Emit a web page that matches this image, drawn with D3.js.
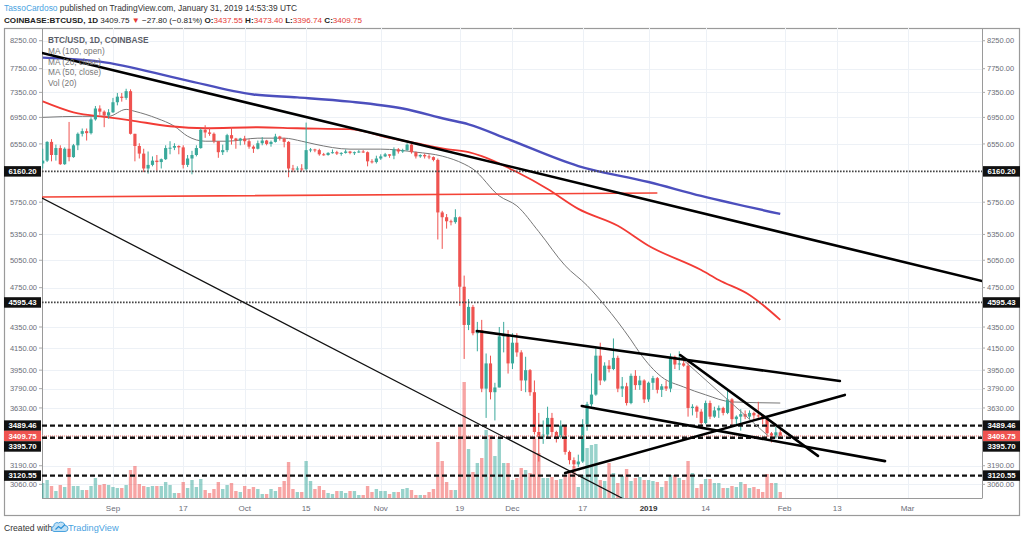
<!DOCTYPE html>
<html lang="en">
<head>
<meta charset="utf-8">
<script src="https://cdn.jsdelivr.net/npm/d3@7"></script>
<style>
  body { margin: 0; background: #fff; }
  svg { display: block; font-family: "Liberation Sans", Arial, sans-serif; }
  .tick-label { font-size: 7.5px; fill: #6b6e78; }
  .x-label { font-size: 8px; fill: #6b6e78; }
  .legend { font-size: 8.3px; fill: #666; }
</style>
</head>
<body>
<svg width="1024" height="540"></svg>
<script>
// BTC/USD daily, Coinbase, 16 Aug 2018 .. 31 Jan 2019  [open, high, low, close]
var firstDay = "2018-08-16";
var candles = [
  [6270,6480,6200,6310],[6310,6590,6290,6580],[6580,6620,6300,6390],[6390,6540,6310,6490],
  [6490,6530,6250,6260],[6260,6500,6250,6480],[6480,6880,6300,6360],[6360,6550,6350,6530],
  [6530,6720,6460,6700],[6700,6780,6660,6740],[6740,6780,6600,6710],[6710,6950,6690,6920],
  [6920,7130,6900,7090],[7090,7140,6990,7040],[7040,7060,6800,6980],[6980,7080,6930,7030],
  // Sep
  [7030,7260,7020,7190],[7190,7340,7140,7280],[7280,7340,7200,7260],[7260,7410,7230,7370],
  [7370,7400,6690,6700],[6700,6700,6300,6520],[6520,6560,6340,6410],[6410,6480,6150,6200],
  [6200,6440,6130,6250],[6250,6370,6230,6310],[6310,6390,6170,6290],[6290,6340,6200,6330],
  [6330,6530,6320,6490],[6490,6590,6400,6495],[6495,6560,6460,6520],[6520,6530,6400,6500],
  [6500,6530,6200,6250],[6250,6390,6220,6340],[6340,6450,6120,6390],[6390,6530,6370,6490],
  [6490,6780,6480,6760],[6760,6830,6640,6720],[6720,6790,6670,6700],[6700,6720,6560,6590],
  [6590,6590,6350,6430],[6430,6540,6390,6460],[6460,6700,6430,6680],[6680,6800,6540,6630],
  [6630,6640,6480,6600],[6600,6640,6530,6630],
  // Oct
  [6630,6670,6540,6590],[6590,6620,6480,6510],[6510,6530,6420,6480],[6480,6600,6470,6560],
  [6560,6650,6530,6600],[6600,6610,6530,6550],[6550,6600,6510,6580],[6580,6700,6570,6660],
  [6660,6670,6600,6630],[6630,6640,6500,6580],[6580,6590,6080,6200],[6200,6250,6150,6190],
  [6190,6230,6170,6200],[6200,6260,6160,6190],[6190,6870,6170,6460],[6460,6490,6430,6470],
  [6470,6480,6430,6460],[6460,6480,6380,6400],[6400,6420,6380,6390],[6390,6430,6380,6420],
  [6420,6470,6410,6430],[6430,6450,6390,6410],[6410,6430,6380,6420],[6420,6470,6410,6440],
  [6440,6450,6400,6420],[6420,6440,6390,6430],[6430,6460,6420,6440],[6440,6460,6420,6430],
  [6430,6440,6230,6300],[6300,6330,6270,6290],[6290,6380,6270,6340],
  // Nov
  [6340,6400,6320,6370],[6370,6420,6360,6400],[6400,6400,6350,6380],[6380,6500,6330,6470],
  [6470,6490,6410,6440],[6440,6480,6420,6460],[6460,6560,6450,6540],[6540,6550,6410,6430],
  [6430,6440,6340,6370],[6370,6400,6350,6390],[6390,6410,6340,6370],[6370,6400,6330,6360],
  [6360,6370,6300,6320],[6320,6340,5290,5620],[5620,5640,5180,5560],[5560,5600,5420,5510],
  [5510,5530,5460,5500],[5500,5660,5480,5560],[5560,5570,4560,4760],[4760,4880,4050,4370],
  [4370,4630,4320,4550],[4550,4570,4270,4290],[4290,4400,4120,4320],[4320,4420,3760,3790],
  [3790,4100,3550,4010],[4010,4080,3700,3760],[3760,3840,3530,3800],[3800,4350,3800,4260],
  [4260,4400,4110,4270],[4270,4320,3920,4010],
  // Dec
  [4010,4290,3960,4200],[4200,4290,4070,4110],[4110,4130,3770,3860],[3860,4070,3760,3950],
  [3950,3960,3730,3760],[3760,3860,3420,3440],[3440,3590,3220,3400],[3400,3530,3350,3420],
  [3420,3640,3400,3550],[3550,3590,3400,3440],[3440,3450,3360,3400],[3400,3530,3390,3490],
  [3490,3490,3270,3290],[3290,3300,3200,3230],[3230,3250,3170,3200],[3200,3270,3180,3220],
  [3220,3540,3210,3500],[3500,3680,3450,3660],[3660,3920,3640,3740],[3740,4150,3730,4080],
  [4080,4200,3820,3860],[3860,4020,3850,3990],[3990,4040,3930,3960],[3960,4240,3950,4060],
  [4060,4080,3760,3790],[3790,3890,3720,3810],[3810,3840,3650,3670],[3670,3920,3660,3900],
  [3900,3950,3780,3820],[3820,3900,3780,3860],[3860,3870,3670,3700],
  // Jan
  [3700,3850,3680,3840],[3840,3900,3780,3880],[3880,3890,3750,3780],[3780,3830,3720,3810],
  [3810,3860,3770,3790],[3790,4100,3760,4070],[4070,4080,3960,4000],[4000,4120,3950,4010],
  [4010,4050,3980,3990],[3990,4030,3560,3630],[3630,3660,3570,3640],[3640,3650,3550,3600],
  [3600,3620,3480,3510],[3510,3690,3500,3670],[3670,3690,3540,3560],[3560,3640,3550,3610],
  [3610,3650,3550,3630],[3630,3640,3570,3590],[3590,3770,3580,3700],[3700,3710,3480,3540],
  [3540,3570,3500,3560],[3560,3620,3450,3580],[3580,3610,3540,3560],[3560,3610,3540,3590],
  [3590,3600,3530,3570],[3570,3680,3550,3565],[3565,3580,3500,3540],[3540,3540,3400,3430],
  [3430,3440,3360,3400],[3400,3480,3390,3437.55],[3437.55,3473.40,3396.74,3409.75]
];

// daily volume, thousand BTC
var volumes = [
  6.0,7.2,4.8,2.8,5.2,4.4,12.0,4.8,4.8,3.2,3.2,4.8,8.0,5.2,5.6,5.2,
  4.4,4.0,4.0,5.2,11.2,12.8,5.6,4.8,4.4,4.8,4.8,4.8,6.4,5.2,2.0,2.0,6.4,4.0,7.2,4.4,
  7.6,3.2,2.0,3.6,6.4,3.6,5.2,6.0,2.8,2.4,
  4.8,3.6,4.4,3.6,1.6,1.6,3.6,2.8,4.4,6.8,14.4,3.6,2.4,2.4,14.8,6.8,3.6,4.8,3.2,2.0,
  1.6,2.8,2.8,2.0,2.8,2.8,1.2,1.2,4.8,2.4,3.6,
  2.8,2.8,1.6,2.4,2.4,3.6,4.0,3.2,1.2,1.2,1.2,2.4,3.6,22.4,14.8,6.4,3.2,3.2,28.4,46.4,
  19.6,10.4,14.0,16.0,27.2,25.2,16.8,24.4,14.0,14.0,
  7.2,8.0,12.0,11.2,10.0,24.4,18.0,8.0,8.0,8.4,7.2,7.6,9.2,10.0,12.8,4.4,9.2,20.0,21.2,21.6,
  7.2,6.8,14.0,10.0,6.0,8.8,11.6,6.8,8.0,8.4,7.2,
  7.2,6.8,6.4,4.4,6.8,9.2,9.2,8.0,7.2,14.8,10.0,4.0,5.6,7.6,7.6,6.0,6.0,4.0,4.0,4.8,
  4.4,6.4,5.6,4.0,4.4,3.6,2.4,9.6,6.0,6.0,2.4
];

// moving averages  [date, value]
var ma100open = [
  ["2018-08-16",7944],["2018-08-29",7874],["2018-09-17",7564],["2018-10-03",7316],
  ["2018-10-13",7268],["2018-10-25",7200],["2018-11-06",7090],["2018-11-16",6921],
  ["2018-11-21",6844],["2018-11-30",6620],["2018-12-16",6234],["2019-01-01",6016],
  ["2019-01-13",5831],["2019-01-31",5602]
];
var ma50close = [
  ["2018-08-16",7203],["2018-08-23",7029],["2018-08-31",6951],["2018-09-05",6905],
  ["2018-09-14",6814],["2018-09-22",6784],["2018-10-04",6799],["2018-10-13",6784],
  ["2018-10-25",6769],["2018-11-03",6640],["2018-11-09",6560],["2018-11-16",6474],
  ["2018-11-21",6431],["2018-11-24",6374],["2018-12-02",6151],["2018-12-09",5923],
  ["2018-12-16",5665],["2018-12-25",5455],["2019-01-01",5217],["2019-01-13",4941],
  ["2019-01-17",4832],["2019-01-24",4673],["2019-01-31",4420]
];
var ma20close = [
  ["2018-08-16",6951],["2018-08-25",6967],["2018-08-31",6967],["2018-09-04",7076],
  ["2018-09-06",7045],["2018-09-11",6936],["2018-09-15",6814],["2018-09-18",6664],
  ["2018-09-22",6590],["2018-09-27",6590],["2018-10-04",6635],["2018-10-10",6635],
  ["2018-10-14",6590],["2018-10-17",6546],["2018-10-25",6474],["2018-11-01",6474],
  ["2018-11-09",6431],["2018-11-15",6374],["2018-11-20",6262],["2018-11-22",6193],
  ["2018-11-28",5831],["2018-12-02",5703],["2018-12-07",5383],["2018-12-13",4990],
  ["2018-12-18",4773],["2018-12-22",4566],["2018-12-28",4226],["2018-12-30",4105],
  ["2019-01-04",3890],["2019-01-09",3804],["2019-01-14",3738],["2019-01-20",3679],
  ["2019-01-31",3670]
];

// drawn trend lines  [date1, price1, date2, price2]
var trendThick = [
  ["2018-08-15T20:00",8026,"2019-03-18T00:00",4821],
  ["2018-11-22T22:00",4311,"2019-02-13T14:00",3855],
  ["2018-12-16T19:00",3646,"2019-02-23T21:00",3223],
  ["2018-12-13T00:00",3138,"2019-02-14T17:00",3737],
  ["2019-01-08T05:00",4086,"2019-02-08T14:00",3261]
];
var trendThin = [["2018-08-15T20:00",5804,"2018-12-25T22:00",2968]];
var trendGrey = [["2019-01-08T22:00",4041,"2019-01-28T00:00",3417]];
var trendRed  = [["2018-08-15T20:00",5817,"2019-01-02T21:00",5869]];

// horizontal levels
var dottedLevels = [6160.20, 4595.43];
var dashedLevels = [3489.46, 3395.70, 3120.55];
var lastPrice = 3409.75;

// axes
var priceTicks = [8250, 7750, 7350, 6950, 6550, 5750, 5350, 5050, 4750, 4350, 4150, 3950, 3790, 3630, 3190, 3060];
var timeTickDates = ["2018-09-01","2018-09-17","2018-10-01","2018-10-15","2018-11-01","2018-11-19",
                     "2018-12-01","2018-12-17","2019-01-01","2019-01-14","2019-02-01","2019-02-13","2019-03-01"];
var timeTickLabels = ["Sep","17","Oct","15","Nov","19","Dec","17","2019","14","Feb","13","Mar"];

var legendLines = ["BTC/USD, 1D, COINBASE", "MA (100, open)", "MA (20, close)", "MA (50, close)", "Vol (20)"];

// ---------------------------------------------------------------
var svg = d3.select("svg");
// plot area (note: "top" is reserved on window, so use pTop etc.)
var pLeft = 42, pRight = 982, pTop = 28, pBottom = 498;
var up = "#3aa99b", down = "#ef5350";

var parse = d3.isoParse;
var days = d3.utcDay.range(parse(firstDay), d3.utcDay.offset(parse(firstDay), candles.length));

var x = d3.scaleUtc()
    .domain([parse("2018-08-15T20:00"), parse("2019-03-17T23:00")])
    .range([pLeft, pRight]);
var y = d3.scaleLog().domain([2968, 8488]).range([pBottom, pTop]);
var yVol = d3.scaleLinear().domain([0, d3.max(volumes)]).range([pBottom, 382]);
var dayW = x(parse("2018-09-02")) - x(parse("2018-09-01"));

svg.append("defs").append("clipPath").attr("id", "plot")
  .append("rect").attr("x", pLeft).attr("y", pTop).attr("width", pRight - pLeft).attr("height", pBottom - pTop);

// frame
svg.append("rect").attr("x", 4.5).attr("y", 28.5).attr("width", 1015).attr("height", 487)
    .attr("fill", "none").attr("stroke", "#9a9a9a").attr("stroke-width", 1.2);

// grid
var grid = svg.append("g").attr("stroke", "#edf1f6").attr("stroke-width", 1);
grid.selectAll("line.h").data(priceTicks).enter().append("line")
    .attr("x1", pLeft).attr("x2", pRight)
    .attr("y1", function(d) { return Math.round(y(d)) + 0.5; })
    .attr("y2", function(d) { return Math.round(y(d)) + 0.5; });
grid.selectAll("line.v").data(timeTickDates).enter().append("line")
    .attr("y1", pTop).attr("y2", pBottom)
    .attr("x1", function(d) { return Math.round(x(parse(d))) + 0.5; })
    .attr("x2", function(d) { return Math.round(x(parse(d))) + 0.5; });

// plot border
svg.append("line").attr("x1", pLeft + 0.5).attr("x2", pLeft + 0.5).attr("y1", pTop).attr("y2", pBottom + 0.5).attr("stroke", "#9a9a9a");
svg.append("line").attr("x1", pRight + 0.5).attr("x2", pRight + 0.5).attr("y1", pTop).attr("y2", pBottom + 0.5).attr("stroke", "#9a9a9a");
svg.append("line").attr("x1", pLeft).attr("x2", pRight).attr("y1", pBottom + 0.5).attr("y2", pBottom + 0.5).attr("stroke", "#9a9a9a");

var plot = svg.append("g").attr("clip-path", "url(#plot)");

// volume
plot.append("g").selectAll("rect").data(volumes).enter().append("rect")
    .attr("x", function(d, i) { return x(days[i]) - (dayW - 1) / 2; })
    .attr("width", dayW - 1)
    .attr("y", function(d) { return yVol(d); })
    .attr("height", function(d) { return pBottom - yVol(d); })
    .attr("fill", function(d, i) { return candles[i][3] >= candles[i][0] ? up : down; })
    .attr("fill-opacity", 0.52);

// legend (sits under the drawings)
svg.append("g").selectAll("text").data(legendLines).enter().append("text")
    .attr("class", "legend")
    .attr("x", 48)
    .attr("y", function(d, i) { return 43 + i * 10.8; })
    .style("font-weight", function(d, i) { return i === 0 ? "bold" : "normal"; })
    .style("fill", function(d, i) { return i === 0 ? "#5b5e68" : "#777"; })
    .text(function(d) { return d; });

// moving averages
var maLine = d3.line()
    .x(function(d) { return x(parse(d[0])); })
    .y(function(d) { return y(d[1]); })
    .curve(d3.curveMonotoneX);
plot.append("path").datum(ma20close).attr("d", maLine).attr("fill", "none").attr("stroke", "#777").attr("stroke-width", 1);
plot.append("path").datum(ma50close).attr("d", maLine).attr("fill", "none").attr("stroke", "#f23b35").attr("stroke-width", 1.8);
plot.append("path").datum(ma100open).attr("d", maLine).attr("fill", "none").attr("stroke", "#4c4fbd").attr("stroke-width", 2.4);

// candles
var c = plot.append("g").selectAll("g").data(candles).enter().append("g");
c.append("line")
    .attr("x1", function(d, i) { return x(days[i]); })
    .attr("x2", function(d, i) { return x(days[i]); })
    .attr("y1", function(d) { return y(d[1]); })
    .attr("y2", function(d) { return y(d[2]); })
    .attr("stroke", function(d) { return d[3] >= d[0] ? up : down; })
    .attr("stroke-width", 1);
c.append("rect")
    .attr("x", function(d, i) { return x(days[i]) - dayW * 0.36; })
    .attr("width", dayW * 0.72)
    .attr("y", function(d) { return y(Math.max(d[0], d[3])); })
    .attr("height", function(d) { return Math.max(1, Math.abs(y(d[0]) - y(d[3]))); })
    .attr("fill", function(d) { return d[3] >= d[0] ? up : down; });

// horizontal levels
plot.append("line").attr("x1", pLeft).attr("x2", pRight)
    .attr("y1", y(lastPrice)).attr("y2", y(lastPrice))
    .attr("stroke", "#f39a98").attr("stroke-width", 1.6).attr("stroke-dasharray", "1,1");
plot.selectAll("line.dot").data(dottedLevels).enter().append("line")
    .attr("x1", pLeft).attr("x2", pRight)
    .attr("y1", function(d) { return y(d); }).attr("y2", function(d) { return y(d); })
    .attr("stroke", "#444").attr("stroke-width", 1.8).attr("stroke-dasharray", "1.6,1.4");
plot.selectAll("line.dash").data(dashedLevels).enter().append("line")
    .attr("x1", pLeft).attr("x2", pRight)
    .attr("y1", function(d) { return y(d); }).attr("y2", function(d) { return y(d); })
    .attr("stroke", "#111").attr("stroke-width", 2.4).attr("stroke-dasharray", "5,3");

// trend lines
function drawTrend(data, color, width) {
  plot.append("g").selectAll("line").data(data).enter().append("line")
    .attr("x1", function(d) { return x(parse(d[0])); })
    .attr("y1", function(d) { return y(d[1]); })
    .attr("x2", function(d) { return x(parse(d[2])); })
    .attr("y2", function(d) { return y(d[3]); })
    .attr("stroke", color).attr("stroke-width", width).attr("stroke-linecap", "round");
}
drawTrend(trendRed, "#f44336", 1.6);
drawTrend(trendGrey, "#888", 1);
drawTrend(trendThin, "#111", 1.3);
drawTrend(trendThick, "#000", 2.6);

// price axis labels, both sides
[[37, "end"], [987, "start"]].forEach(function(side) {
  svg.append("g").selectAll("text").data(priceTicks).enter().append("text")
    .attr("class", "tick-label")
    .attr("x", side[0]).attr("y", function(d) { return y(d) + 2.6; })
    .attr("text-anchor", side[1])
    .text(function(d) { return d.toFixed(2); });
  svg.append("g").selectAll("line").data(priceTicks).enter().append("line")
    .attr("x1", side[1] === "end" ? pLeft - 3 : pRight).attr("x2", side[1] === "end" ? pLeft : pRight + 3)
    .attr("y1", function(d) { return y(d); }).attr("y2", function(d) { return y(d); })
    .attr("stroke", "#aaa");
});

// level boxes with simple collision push
var boxH = 10.5;
var boxes = dottedLevels.concat(dashedLevels).map(function(p) { return { p: p, fill: "#111" }; });
boxes.push({ p: lastPrice, fill: "#ef5350" });
boxes.forEach(function(b) { b.y = y(b.p); });
boxes.sort(function(a, b) { return a.y - b.y; });
for (var i = 1; i < boxes.length; i++) {
  if (boxes[i].y - boxes[i - 1].y < boxH - 1.5) boxes[i].y = boxes[i - 1].y + boxH;
}
[[4, 37], [983, 37]].forEach(function(side) {
  var g = svg.append("g").selectAll("g").data(boxes).enter().append("g");
  g.append("rect").attr("x", side[0]).attr("width", side[1])
    .attr("y", function(d) { return d.y - boxH / 2; }).attr("height", boxH)
    .attr("fill", function(d) { return d.fill; });
  g.append("text").attr("x", side[0] + side[1] / 2).attr("y", function(d) { return d.y + 2.8; })
    .attr("text-anchor", "middle").style("font-size", "7.8px").style("font-weight", "bold")
    .style("fill", "#fff").text(function(d) { return d.p.toFixed(2); });
});

// time axis labels
svg.append("g").selectAll("text").data(timeTickDates).enter().append("text")
    .attr("class", "x-label")
    .attr("x", function(d) { return x(parse(d)); }).attr("y", 511)
    .attr("text-anchor", "middle")
    .style("font-weight", function(d, i) { return timeTickLabels[i] === "2019" ? "bold" : "normal"; })
    .style("fill", function(d, i) { return timeTickLabels[i] === "2019" ? "#333" : "#6b6e78"; })
    .text(function(d, i) { return timeTickLabels[i]; });

// header
var h1 = svg.append("text").attr("x", 4).attr("y", 11).style("font-size", "8.4px").style("fill", "#333");
h1.append("tspan").style("fill", "#4aa3df").text("TassoCardoso");
h1.append("tspan").text(" published on TradingView.com, January 31, 2019 14:53:39 UTC");

var h2 = svg.append("text").attr("x", 4).attr("y", 23).style("font-size", "8.1px").style("fill", "#222");
h2.append("tspan").style("font-weight", "bold").text("COINBASE:BTCUSD, 1D");
h2.append("tspan").text("  " + lastPrice.toFixed(2) + " ");
h2.append("tspan").style("fill", "#e53935").text("\u25BC");
h2.append("tspan").text(" \u221227.80 (\u22120.81%) ");
[["O:", "3437.55"], ["H:", "3473.40"], ["L:", "3396.74"], ["C:", "3409.75"]].forEach(function(p, i) {
  h2.append("tspan").style("font-weight", "bold").text((i ? " " : "") + p[0]);
  h2.append("tspan").style("fill", "#e53935").text(p[1]);
});

// footer
svg.append("text").attr("x", 4).attr("y", 531).style("font-size", "8.6px").style("fill", "#333").text("Created with");
svg.append("path")
    .attr("d", "M54,531.5 h11 a3,3 0 0 0 0,-6 a4,4 0 0 0 -6.5,-2.5 a3,3 0 0 0 -4.5,3 a2.8,2.8 0 0 0 0,5.5 z")
    .attr("fill", "#bfe0f5").attr("stroke", "#4aa3df").attr("stroke-width", 1);
svg.append("path").attr("d", "M55.5,529.5 l3,-3 l2.5,2 l4,-4").attr("fill", "none").attr("stroke", "#2a8fd6").attr("stroke-width", 1.1);
svg.append("text").attr("x", 68).attr("y", 531).style("font-size", "9.2px").style("fill", "#4aa3df").text("TradingView");
</script>
</body>
</html>
